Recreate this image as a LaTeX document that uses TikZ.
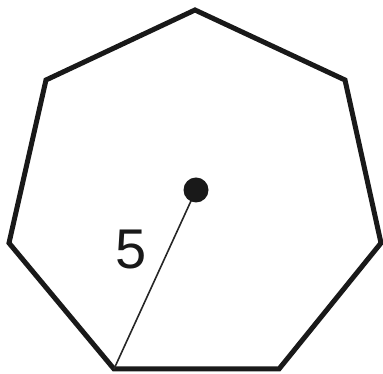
\documentclass[tikz,border=0pt]{standalone}
\usepackage{fontspec}
\setmainfont{Liberation Sans}
\begin{document}
\begin{tikzpicture}[x=1pt,y=1pt,
  edge/.style={line width=5pt,line join=miter,draw=black!90},
  radius line/.style={line width=1.6pt,draw=black!85},
  lbl/.style={inner sep=0pt,font=\fontsize{56}{56}\selectfont,text=black!90}]
\useasboundingbox (0,0) rectangle (383,374);
\coordinate (v1) at (195,364);
\coordinate (v2) at (345,294);
\coordinate (v3) at (381,131);
\coordinate (v4) at (279,5);
\coordinate (v5) at (114,5);
\coordinate (v6) at (9,131);
\coordinate (v7) at (46,294);
\coordinate (c) at (196,184);
\draw[edge] (v1) -- (v2) -- (v3) -- (v4) -- (v5) -- (v6) -- (v7) -- cycle;
\draw[radius line] (c) -- (v5);
\fill[black!90] (c) circle (12.5);
\node[lbl] (five) at (131,124) {5};
\end{tikzpicture}
\end{document}
